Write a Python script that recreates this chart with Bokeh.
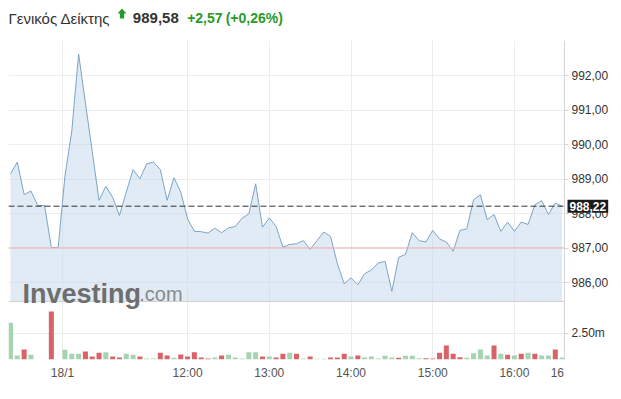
from bokeh.plotting import figure
from bokeh.models import Range1d, FixedTicker, Label, CustomJSTickFormatter
from bokeh.layouts import column
from bokeh.embed import file_html
from bokeh.resources import INLINE
from bokeh.core.properties import value

# ---------------- data ----------------
price = [989.16, 989.50, 988.56, 988.66, 988.24, 988.24, 987.02, 987.02, 989.10, 990.40,
         992.64, 991.22, 989.81, 988.39, 988.80, 988.48, 987.95, 988.63, 989.28, 989.02,
         989.45, 989.50, 989.28, 988.39, 989.05, 988.63, 987.85, 987.49, 987.48, 987.44,
         987.58, 987.45, 987.59, 987.63, 987.87, 988.00, 988.87, 987.61, 987.88, 987.63,
         987.03, 987.11, 987.13, 987.22, 986.97, 987.22, 987.47, 987.34, 986.55, 985.97,
         986.14, 985.94, 986.26, 986.37, 986.57, 986.62, 985.75, 986.74, 986.82, 987.45,
         987.22, 987.18, 987.52, 987.27, 987.18, 986.91, 987.52, 987.56, 988.41, 988.55,
         987.83, 987.98, 987.49, 987.76, 987.49, 987.76, 987.69, 988.26, 988.38, 987.98,
         988.31, 988.22]

volume_m = [3.53, 0.38, 0.96, 0.45, 0.0, 0.0, 4.62, 0.0, 0.93, 0.55,
            0.55, 0.77, 0.29, 0.64, 0.70, 0.29, 0.19, 0.55, 0.45, 0.29,
            0.10, 0.10, 0.64, 0.38, 0.16, 0.48, 0.29, 0.70, 0.19, 0.10,
            0.19, 0.38, 0.45, 0.19, 0.10, 0.70, 0.70, 0.29, 0.29, 0.19,
            0.55, 0.64, 0.55, 0.10, 0.29, 0.07, 0.07, 0.19, 0.19, 0.55,
            0.29, 0.38, 0.19, 0.29, 0.10, 0.36, 0.19, 0.16, 0.36, 0.36,
            0.13, 0.13, 0.10, 0.64, 1.35, 0.55, 0.22, 0.16, 0.61, 0.96,
            0.38, 1.35, 0.55, 0.45, 0.38, 0.55, 0.64, 0.55, 0.38, 0.38,
            0.96, 0.19]

# u = up (green), d = down (red)
direction = ("uudu" "ddddu" "uuddd" "udduu" "duudd" "uddddd"
             "uduuuu" "udud" "dudud" "uuddd" "udu" "uuuu" "duuu"
             "dddddd" "uuuu" "dudud" "udu" "udud")

x_tick_pos = [7.64, 26, 38, 50, 62, 74, 80.3]
x_tick_labels = ["18/1", "12:00", "13:00", "14:00", "15:00", "16:00", "16"]
y_ticks = [986, 987, 988, 989, 990, 991, 992]
vol_tick = 2.5
vol_tick_label = "2.50m"

last_price = 988.22
last_price_label = "988,22"
prev_close = 987.01

title_name = "Γενικός Δείκτης"
title_price = "989,58"
title_change = "+2,57"
title_pct = "(+0,26%)"

# ---------------- layout constants ----------------
FONT = "Liberation Sans"
GREEN_T = "#2a9a2a"
X_START, X_AXIS = -0.294, 81.35          # frame left / price-axis position (data units)
PX_PER_X = 556 / (X_AXIS - X_START)
FIG_W = 618
X_END = X_START + (FIG_W - 8) / PX_PER_X  # frame extends under the axis labels
PRICE_LO, PRICE_HI = 983.77, 993.03
AREA_BOTTOM = 985.455
VOL_TOP = 30.67

idx = list(range(len(price)))
colors = []
for i, d in enumerate(direction[:len(volume_m)]):
    colors.append("#a4d5b0" if d == "u" else "#d8646a")
while len(colors) < len(volume_m):
    colors.append("#a4d5b0")

vol_tick_price = PRICE_LO + vol_tick / VOL_TOP * (PRICE_HI - PRICE_LO)

# ---------------- header ----------------
h = figure(width=FIG_W, height=40, x_range=Range1d(0, FIG_W), y_range=Range1d(0, 40),
           toolbar_location=None, output_backend="svg", x_axis_type=None, y_axis_type=None,
           min_border=0, min_border_left=0, min_border_right=0, min_border_top=0,
           min_border_bottom=0)
h.outline_line_color = None
h.grid.visible = False
TY = 22.5
h.text(x=[0], y=[TY], text=[title_name], text_font=value(FONT), text_font_size="15px",
       text_color="#333333", text_baseline="alphabetic")
h.patch(x=[110.5, 115.0, 119.5, 117.2, 117.2, 112.8, 112.8],
        y=[TY + 4.5, TY + 9.5, TY + 4.5, TY + 4.5, TY - 0.5, TY - 0.5, TY + 4.5],
        fill_color=GREEN_T, line_color=None)
h.text(x=[126], y=[TY], text=[title_price], text_font=value(FONT), text_font_size="15px",
       text_font_style="bold", text_color="#333333", text_baseline="alphabetic")
h.text(x=[181], y=[TY], text=[title_change], text_font=value(FONT), text_font_size="14px",
       text_font_style="bold", text_color=GREEN_T, text_baseline="alphabetic")
h.text(x=[220], y=[TY], text=[title_pct], text_font=value(FONT), text_font_size="14px",
       text_font_style="bold", text_color=GREEN_T, text_baseline="alphabetic")

# ---------------- main chart ----------------
p = figure(width=FIG_W, height=349, x_range=Range1d(X_START, X_END),
           y_range=Range1d(PRICE_LO, PRICE_HI), toolbar_location=None, output_backend="svg",
           y_axis_location="right", min_border_left=8, min_border_right=0,
           min_border_top=0, min_border_bottom=30)
p.extra_y_ranges = {"vol": Range1d(0, VOL_TOP)}
p.outline_line_color = None
p.background_fill_color = "white"

yt = FixedTicker(ticks=[vol_tick_price] + y_ticks)
p.yaxis.fixed_location = X_AXIS
p.yaxis.ticker = yt
p.yaxis.formatter = CustomJSTickFormatter(
    args=dict(th=AREA_BOTTOM, vl=vol_tick_label),
    code="return tick < th ? vl : tick.toFixed(2).replace('.', ',');")
p.yaxis.axis_line_color = "#d4d4d4"
p.yaxis.major_tick_line_color = "#d4d4d4"
p.yaxis.major_tick_out = 4
p.yaxis.major_tick_in = 0
p.yaxis.minor_tick_line_color = None
p.yaxis.major_label_text_font = FONT
p.yaxis.major_label_text_font_size = "12px"
p.yaxis.major_label_text_color = "#333333"
p.yaxis.major_label_standoff = 3

p.ygrid.ticker = yt
p.ygrid.grid_line_color = "#ececec"
if "cross_bounds" in p.ygrid[0].properties():
    p.ygrid.cross_bounds = (X_START, X_AXIS)
else:
    p.ygrid.grid_line_color = None
    gy = [vol_tick_price] + y_ticks
    p.segment(x0=[X_START] * len(gy), x1=[X_AXIS] * len(gy), y0=gy, y1=gy,
              line_color="#ececec", line_width=1, level="underlay")

p.xaxis.ticker = FixedTicker(ticks=x_tick_pos)
p.xaxis.major_label_overrides = {t: l for t, l in zip(x_tick_pos, x_tick_labels)}
p.xaxis.axis_line_color = None
p.xaxis.major_tick_line_color = None
p.xaxis.major_tick_out = 0
p.xaxis.major_tick_in = 0
p.xaxis.minor_tick_line_color = None
p.xaxis.major_label_text_font = FONT
p.xaxis.major_label_text_font_size = "12px"
p.xaxis.major_label_text_color = "#555555"
p.xaxis.major_label_standoff = 6
p.xgrid.ticker = FixedTicker(ticks=x_tick_pos[:-1])
p.xgrid.grid_line_color = "#ececec"

# price area
p.varea(x=idx, y1=AREA_BOTTOM, y2=price, fill_color="#c4d8ec", fill_alpha=0.5)
p.line(idx, price, line_color="#7da4c6", line_width=1)

# reference lines, stopping at the price axis
p.segment(x0=[X_START], x1=[X_AXIS], y0=[prev_close], y1=[prev_close],
          line_color="#f2b0b0", line_width=1)
p.segment(x0=[X_START], x1=[X_AXIS], y0=[AREA_BOTTOM], y1=[AREA_BOTTOM],
          line_color="#cfcfcf", line_width=1)

# volume
p.vbar(x=idx, width=0.74, top=volume_m, bottom=0, y_range_name="vol",
       fill_color=colors, line_color=None)

p.segment(x0=[X_START], x1=[X_AXIS], y0=[last_price], y1=[last_price],
          line_color="#333333", line_width=1, line_dash="6 3")

# watermark
WM_Y = 985.66
p.text(x=[1.76], y=[WM_Y], text=["Investing"], text_font=value(FONT), text_font_size="27px",
       text_font_style="bold", text_color="#6e6e6e", text_baseline="alphabetic")
p.text(x=[18.9], y=[WM_Y], text=[".com"], text_font=value(FONT), text_font_size="20px",
       text_color="#8a8a8a", text_baseline="alphabetic")

# last price box on the axis
p.add_layout(Label(x=X_AXIS, y=last_price, x_offset=3, text=last_price_label,
                   text_font=FONT, text_font_size="12px", text_font_style="bold",
                   text_color="white", text_baseline="middle",
                   background_fill_color="#1c1c1c", padding=2))

layout = column(h, p, spacing=0)
open("out.html", "w").write(file_html(layout, INLINE))
